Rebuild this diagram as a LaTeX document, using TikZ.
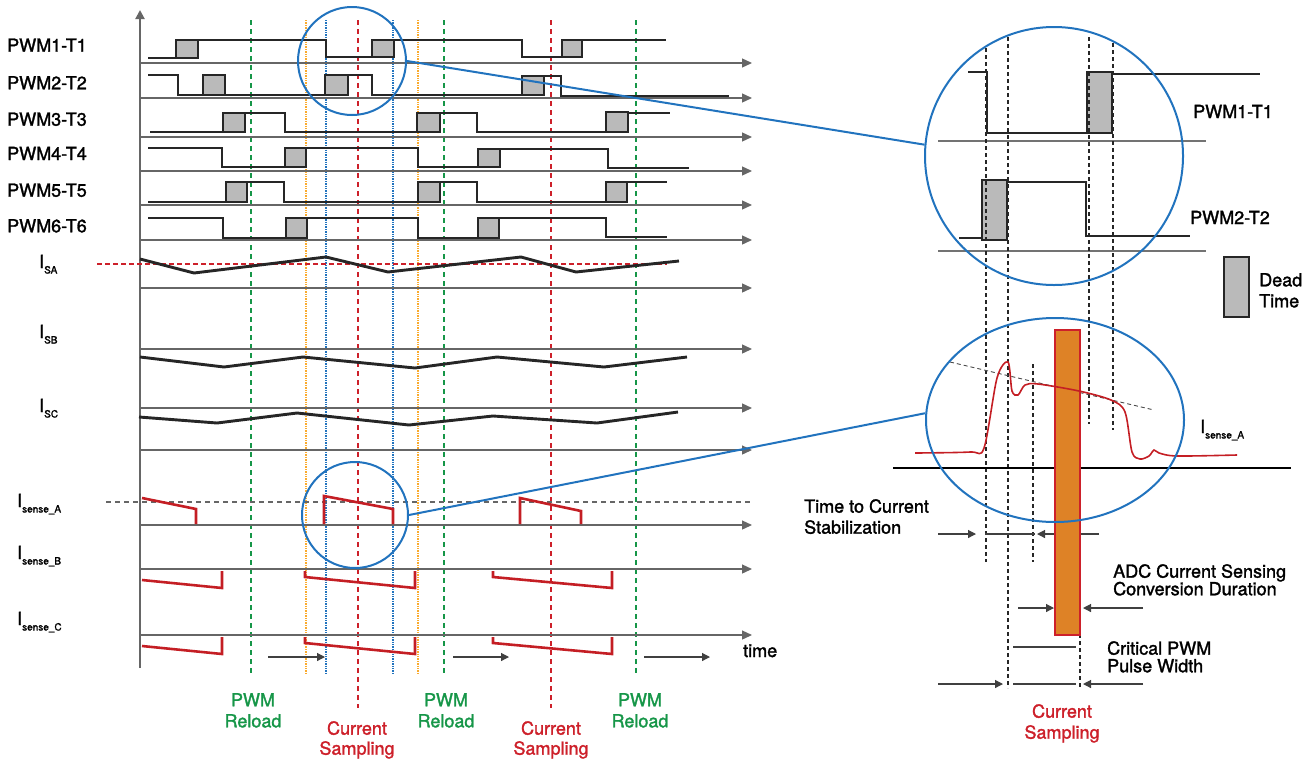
\documentclass[tikz,border=0pt]{standalone}
\usepackage{fontspec}
\setmainfont{TeX Gyre Heros}[FakeBold=1.6]
\usetikzlibrary{arrows.meta,shapes.geometric}
\definecolor{ringblue}{RGB}{33,115,190}
\definecolor{reloadgreen}{RGB}{22,150,72}
\definecolor{samplered}{RGB}{205,32,42}
\definecolor{edgeorange}{RGB}{250,170,45}
\definecolor{sensered}{RGB}{196,30,36}
\definecolor{adcorange}{RGB}{222,130,38}
\newcommand{\Isub}[1]{I\raisebox{-5.5pt}{\fontsize{10}{10}\selectfont #1}}

\begin{document}
\begin{tikzpicture}[x=1pt,y=-1pt,
  txt/.style={inner sep=0,font=\fontsize{18}{21}\selectfont},
  tline/.style={draw=black!60,line width=1.3,-{Triangle[length=10pt,width=9pt]}},
  pwm/.style={black!85,line width=2.2},
  dbox/.style={fill=black!27,draw=black!85,line width=2.2},
  phase/.style={black!85,line width=2.9},
  sense/.style={sensered,line width=2.6},
  reloadln/.style={reloadgreen,line width=1.5,dash pattern=on 5pt off 4pt},
  sampleln/.style={samplered,line width=1.5,dash pattern=on 5pt off 4pt},
  edgeln/.style={edgeorange,line width=1.4,densely dotted},
  blueln/.style={ringblue,line width=1.4,densely dotted},
  zoomring/.style={draw=ringblue,line width=2,inner sep=0},
  guideln/.style={black!85,line width=1.1,dash pattern=on 4pt off 3pt},
  dimarrow/.style={black!75,line width=1.2,-{Triangle[length=8pt,width=8pt]}}]
\useasboundingbox (0,0) rectangle (1313,758);

\foreach \x in {251,444,636} \draw[reloadln] (\x,20) -- (\x,673);
\foreach \x in {306,418} \draw[edgeln] (\x,20) -- (\x,673);
\foreach \x in {326,393} \draw[blueln] (\x,20) -- (\x,673);
\foreach \x in {358,551} \draw[sampleln] (\x,20) -- (\x,708);

\draw[black!60,line width=2,-{Triangle[length=9pt,width=9pt]}] (140,668) -- (140,10);
\foreach \y in {63,98,137,171,205,240,288,349,408,450,525,569,635}
  \draw[tline] (140,\y) -- (752,\y);

\draw[samplered,line width=1.1,dash pattern=on 5pt off 3pt] (97,264) -- (667,264);
\draw[black!60,line width=1.3,dash pattern=on 5pt off 4pt] (106,502) -- (752,502);

\draw[pwm] (148,58) -- (198,58) -- (198,40) -- (326,40) -- (326,57) -- (394,57) -- (394,40)
  -- (522,40) -- (522,57) -- (582,57) -- (582,40) -- (666,40);
\draw[pwm] (148,75) -- (178,75) -- (178,95) -- (348,95) -- (348,75) -- (372,75) -- (372,95)
  -- (544,95) -- (544,76) -- (561,76) -- (561,96) -- (729,96);
\draw[pwm] (150,132) -- (245,132) -- (245,113) -- (285,113) -- (285,132) -- (440,132) -- (440,113)
  -- (477,113) -- (477,132) -- (628,132) -- (628,113) -- (670,113);
\draw[pwm] (148,148) -- (222,148) -- (222,167) -- (306,167) -- (306,148) -- (418,148) -- (418,167)
  -- (500,167) -- (500,149) -- (608,149) -- (608,168) -- (689,168);
\draw[pwm] (148,202) -- (247,202) -- (247,182) -- (284,182) -- (284,202) -- (440,202) -- (440,182)
  -- (477,182) -- (477,202) -- (627,202) -- (627,182) -- (667,182);
\draw[pwm] (148,218) -- (223,218) -- (223,238) -- (307,238) -- (307,218) -- (418,218) -- (418,238)
  -- (499,238) -- (499,218) -- (606,218) -- (606,237) -- (667,237);
\foreach \a/\b/\t/\d in {176/198/40/58, 372/394/40/57, 562/582/40/57,
    203/225/75/95, 325/348/75/95, 522/544/76/95,
    223/245/113/132, 417/440/113/132, 606/628/112/132,
    285/306/148/167, 478/500/149/167,
    226/247/182/202, 418/440/182/202, 606/627/182/202,
    286/307/218/238, 478/499/218/238}
  \draw[dbox] (\a,\t) rectangle (\b,\d);

\draw[phase] (140,259) -- (194,273) -- (326,257) -- (388,272) -- (521,257) -- (576,272) -- (679,261);
\draw[phase] (140,357) -- (224,367) -- (303,357) -- (415,368) -- (497,357) -- (604,367) -- (687,357);
\draw[phase] (139,417) -- (217,423) -- (297,413) -- (409,425) -- (493,416) -- (597,423) -- (678,412);

\draw[sense] (142,498) -- (196,509) -- (196,524);
\draw[sense] (324,524) -- (324,496) -- (393,509) -- (393,524);
\draw[sense] (520,524) -- (520,498) -- (581,511) -- (581,524);
\draw[sense] (142,580) -- (222,588) -- (222,571);
\draw[sense] (142,646) -- (222,654) -- (222,637);
\foreach \a/\b in {305/415, 493/612} {
  \draw[sense] (\a,571) -- (\a,577) -- (\b,588) -- (\b,571);
  \draw[sense] (\a,637) -- (\a,643) -- (\b,654) -- (\b,637);
}

\foreach \a/\b in {268/325, 453/509, 644/710} \draw[dimarrow] (\a,657) -- (\b,657);

\foreach \n/\y in {1/51.7, 2/89.3, 3/125.7, 4/160, 5/196.7, 6/232.3}
  \node[txt,anchor=base west] (pwm\n) at (7,\y) {PWM\n-T\n};
\node[txt,anchor=base west] (isa) at (39,268) {\Isub{SA}};
\node[txt,anchor=base west] (isb) at (39,338) {\Isub{SB}};
\node[txt,anchor=base west] (isc) at (39,412) {\Isub{SC}};
\node[txt,anchor=base west] (sensea) at (17,507) {\Isub{sense\_A}};
\node[txt,anchor=base west] (senseb) at (17,559) {\Isub{sense\_B}};
\node[txt,anchor=base west] (sensec) at (17,625) {\Isub{sense\_C}};
\node[txt,anchor=base west] (timelbl) at (743,657) {time};
\foreach \x/\i in {253/1, 446/2, 640/3}
  \node[txt,anchor=north,align=center,text=reloadgreen] (reload\i) at (\x,693) {PWM\\Reload};
\foreach \x/\i in {357/1, 551/2}
  \node[txt,anchor=north,align=center,text=samplered,font=\fontsize{18}{20}\selectfont]
    (sampling\i) at (\x,721) {Current\\Sampling};

% zoomed view
\draw[black!55,line width=1.3] (938,141) -- (1206,141);
\draw[black!55,line width=1.3] (938,251) -- (1206,251);
\draw[pwm] (968,72) -- (987,72) -- (987,133) -- (1112,133) -- (1112,74) -- (1260,74);
\draw[pwm] (959,238) -- (1007,238) -- (1007,182) -- (1086,182) -- (1086,236) -- (1190,236);
\draw[dbox] (1087,72) rectangle (1112,133);
\draw[dbox] (982,180) rectangle (1007,240);
\draw[dbox] (1224,257) rectangle (1249,317);
\foreach \x/\t/\b in {986/48/562, 1008/37/688, 1033/364/562, 1089/37/424, 1113/43/430, 1080/634/689}
  \draw[guideln] (\x,\t) -- (\x,\b);
\draw[black,line width=1.2] (893,468) -- (1291,468);
\draw[black!70,line width=0.9,dash pattern=on 4pt off 3pt] (950,362) -- (1154,410);
\draw[dimarrow] (938,534) -- (976,534);
\draw[black!75,line width=1.2] (985,534) -- (1035,534);
\draw[dimarrow] (1099,534) -- (1037,534);
\draw[dimarrow] (1018,608) -- (1054,608);
\draw[dimarrow] (1143,608) -- (1083,608);
\draw[black!75,line width=1.2] (1013,647) -- (1076,647);
\draw[dimarrow] (938,684) -- (1003,684);
\draw[black!75,line width=1.2] (1013,684) -- (1076,684);
\draw[dimarrow] (1143,684) -- (1083,684);
\draw[fill=adcorange,draw=samplered,line width=1.6] (1055,330) rectangle (1080,635);
\draw[sensered,line width=1.6] plot[smooth,tension=0.5] coordinates {(915,453) (970,452) (984,448)
  (997,378) (1008,362) (1012,391) (1018,395) (1025,385) (1038,384) (1079,391) (1111,400)
  (1125,412) (1132,452) (1140,459) (1149,456) (1154,450) (1159,453) (1177,456) (1237,455)};

\node[zoomring,circle,minimum size=108pt] (ringA) at (352,61) {};
\node[zoomring,circle,minimum size=106pt] (ringB) at (355,515) {};
\node[zoomring,circle,minimum size=258pt] (ringC) at (1054,156) {};
\node[zoomring,ellipse,minimum width=258pt,minimum height=204pt] (ringD) at (1055,420) {};
\draw[ringblue,line width=2] (ringA.east) -- (ringC.175);
\draw[ringblue,line width=2] (ringB.east) -- (ringD.177);

\node[txt,anchor=base west] (zpwm1) at (1193,118) {PWM1-T1};
\node[txt,anchor=base west] (zpwm2) at (1190,224) {PWM2-T2};
\node[txt,anchor=north west,align=left] (deadlbl) at (1259,273) {Dead\\Time};
\node[txt,anchor=base west] (zsense) at (1200,433) {\Isub{sense\_A}};
\node[txt,anchor=north west,align=left] (stablbl) at (804,499) {Time to Current\\Stabilization};
\node[txt,anchor=north west,align=left,font=\fontsize{18}{17.6}\selectfont] (adclbl) at (1113,564)
  {ADC Current Sensing\\Conversion Duration};
\node[txt,anchor=north west,align=left,font=\fontsize{18}{17.6}\selectfont] (critlbl) at (1107,641)
  {Critical PWM\\Pulse Width};
\node[txt,anchor=north,align=center,text=samplered] (sampling3) at (1062,704) {Current\\Sampling};
\end{tikzpicture}
\end{document}
